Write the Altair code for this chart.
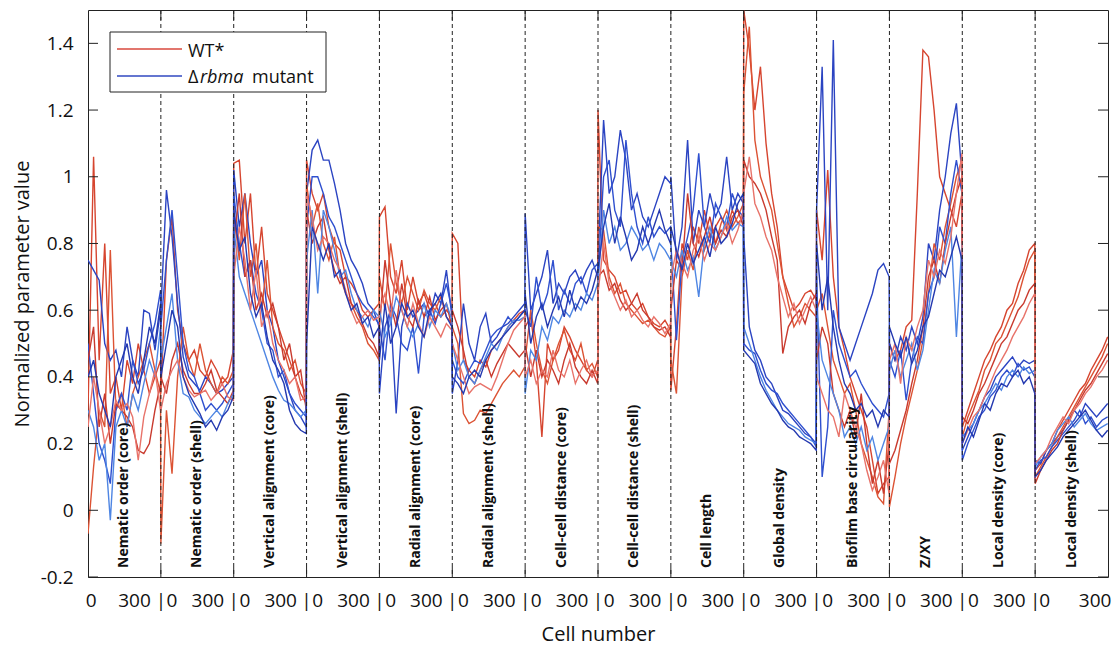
import altair as alt
import pandas as pd

# ---------------- data ----------------
CELLS = [0, 36, 72, 108, 144, 180, 216, 252, 288, 324, 360, 396, 432, 468]
SEG_LEN = 470

SEGMENT_LABELS = [
    "Nematic order (core)", "Nematic order (shell)",
    "Vertical alignment (core)", "Vertical alignment (shell)",
    "Radial alignment (core)", "Radial alignment (shell)",
    "Cell-cell distance (core)", "Cell-cell distance (shell)",
    "Cell length", "Global density", "Biofilm base circularity",
    "Z/XY", "Local density (core)", "Local density (shell)",
]

NEM_CORE_WT = [
    [0.30, 1.06, 0.45, 0.80, 0.35, 0.40, 0.30, 0.45, 0.38, 0.50, 0.42, 0.35, 0.40, 0.45],
    [-0.07, 0.13, 0.30, 0.25, 0.78, 0.30, 0.35, 0.25, 0.35, 0.40, 0.45, 0.50, 0.42, 0.35],
    [0.45, 0.55, 0.25, 0.35, 0.20, 0.32, 0.30, 0.28, 0.25, 0.18, 0.17, 0.20, 0.30, 0.38],
    [0.25, 0.40, 0.30, 0.20, 0.25, 0.33, 0.30, 0.32, 0.28, 0.15, 0.28, 0.35, 0.42, 0.30],
]
NEM_CORE_MUT = [
    [0.75, 0.72, 0.69, 0.50, 0.45, 0.48, 0.40, 0.55, 0.45, 0.40, 0.60, 0.59, 0.48, 0.60],
    [0.50, 0.35, 0.20, 0.15, 0.08, 0.30, 0.35, 0.30, 0.45, 0.38, 0.42, 0.50, 0.56, 0.66],
    [0.30, 0.25, 0.15, 0.20, -0.03, 0.25, 0.30, 0.25, 0.35, 0.30, 0.38, 0.45, 0.40, 0.55],
    [0.40, 0.45, 0.35, 0.30, 0.25, 0.40, 0.45, 0.50, 0.40, 0.35, 0.45, 0.55, 0.50, 0.62],
]
NEM_SHELL_WT = [
    [0.35, 0.75, 0.88, 0.60, 0.50, 0.45, 0.48, 0.42, 0.40, 0.45, 0.42, 0.38, 0.40, 0.48],
    [-0.10, 0.30, 0.11, 0.40, 0.55, 0.45, 0.40, 0.50, 0.42, 0.38, 0.35, 0.40, 0.38, 0.42],
    [0.40, 0.35, 0.45, 0.50, 0.42, 0.38, 0.35, 0.35, 0.38, 0.42, 0.36, 0.34, 0.32, 0.36],
    [0.30, 0.38, 0.42, 0.45, 0.40, 0.36, 0.34, 0.35, 0.36, 0.33, 0.35, 0.38, 0.34, 0.33],
]
NEM_SHELL_MUT = [
    [0.60, 0.96, 0.82, 0.62, 0.46, 0.40, 0.38, 0.36, 0.40, 0.38, 0.35, 0.36, 0.38, 0.40],
    [0.55, 0.75, 0.90, 0.70, 0.50, 0.42, 0.40, 0.35, 0.30, 0.32, 0.30, 0.32, 0.35, 0.38],
    [0.45, 0.55, 0.65, 0.45, 0.35, 0.34, 0.30, 0.28, 0.26, 0.28, 0.30, 0.28, 0.32, 0.35],
    [0.40, 0.50, 0.60, 0.55, 0.40, 0.35, 0.32, 0.29, 0.25, 0.27, 0.24, 0.28, 0.30, 0.34],
]
VERT_CORE_WT = [
    [1.04, 1.05, 0.80, 0.95, 0.70, 0.85, 0.65, 0.60, 0.55, 0.50, 0.45, 0.40, 0.35, 0.32],
    [0.90, 0.75, 0.95, 0.70, 0.80, 0.60, 0.75, 0.55, 0.50, 0.48, 0.42, 0.45, 0.38, 0.35],
    [0.80, 0.95, 0.70, 0.75, 0.60, 0.65, 0.58, 0.62, 0.55, 0.45, 0.50, 0.40, 0.42, 0.30],
    [0.70, 0.85, 0.75, 0.60, 0.72, 0.55, 0.60, 0.50, 0.45, 0.42, 0.38, 0.40, 0.33, 0.34],
]
VERT_CORE_MUT = [
    [1.02, 0.85, 0.95, 0.80, 0.70, 0.75, 0.60, 0.55, 0.45, 0.40, 0.35, 0.30, 0.28, 0.25],
    [0.95, 0.80, 0.70, 0.75, 0.65, 0.60, 0.50, 0.48, 0.40, 0.42, 0.35, 0.32, 0.30, 0.28],
    [0.85, 0.70, 0.65, 0.60, 0.55, 0.50, 0.45, 0.40, 0.36, 0.33, 0.32, 0.30, 0.28, 0.30],
    [0.90, 0.78, 0.82, 0.65, 0.58, 0.62, 0.52, 0.45, 0.42, 0.38, 0.30, 0.26, 0.24, 0.23],
]
VERT_SHELL_WT = [
    [1.05, 0.95, 0.90, 0.95, 0.85, 0.80, 0.78, 0.70, 0.68, 0.65, 0.60, 0.58, 0.60, 0.62],
    [0.98, 0.85, 0.92, 0.80, 0.75, 0.82, 0.70, 0.65, 0.62, 0.58, 0.55, 0.50, 0.48, 0.45],
    [0.90, 0.80, 0.85, 0.88, 0.78, 0.72, 0.68, 0.70, 0.62, 0.60, 0.56, 0.52, 0.50, 0.46],
    [0.95, 0.88, 0.78, 0.82, 0.80, 0.75, 0.72, 0.66, 0.60, 0.56, 0.58, 0.60, 0.57, 0.58],
]
VERT_SHELL_MUT = [
    [0.95, 1.08, 1.11, 1.05, 1.05, 0.98, 0.90, 0.80, 0.75, 0.72, 0.68, 0.62, 0.60, 0.55],
    [0.85, 1.00, 1.00, 0.95, 0.88, 0.85, 0.80, 0.75, 0.70, 0.65, 0.62, 0.60, 0.58, 0.56],
    [0.75, 0.90, 0.65, 0.90, 0.85, 0.78, 0.70, 0.72, 0.65, 0.60, 0.58, 0.55, 0.60, 0.58],
    [0.50, 0.85, 0.80, 0.75, 0.80, 0.70, 0.72, 0.65, 0.60, 0.62, 0.56, 0.58, 0.52, 0.55],
]
RAD_CORE_WT = [
    [0.88, 0.91, 0.70, 0.65, 0.75, 0.60, 0.70, 0.62, 0.65, 0.60, 0.62, 0.58, 0.60, 0.58],
    [0.70, 0.60, 0.80, 0.68, 0.62, 0.70, 0.65, 0.60, 0.66, 0.62, 0.60, 0.64, 0.58, 0.56],
    [0.55, 0.75, 0.62, 0.55, 0.68, 0.58, 0.55, 0.63, 0.58, 0.64, 0.57, 0.60, 0.62, 0.55],
    [0.60, 0.65, 0.58, 0.72, 0.60, 0.55, 0.62, 0.56, 0.52, 0.58, 0.55, 0.52, 0.56, 0.54],
]
RAD_CORE_MUT = [
    [0.35, 0.55, 0.60, 0.29, 0.55, 0.62, 0.58, 0.60, 0.62, 0.58, 0.65, 0.62, 0.72, 0.58],
    [0.55, 0.45, 0.62, 0.58, 0.50, 0.48, 0.55, 0.41, 0.58, 0.60, 0.56, 0.62, 0.68, 0.60],
    [0.60, 0.52, 0.56, 0.64, 0.60, 0.55, 0.52, 0.56, 0.62, 0.55, 0.60, 0.58, 0.62, 0.57],
    [0.45, 0.62, 0.50, 0.55, 0.62, 0.58, 0.60, 0.55, 0.52, 0.60, 0.62, 0.65, 0.58, 0.55],
]
RAD_SHELL_WT = [
    [0.83, 0.80, 0.45, 0.42, 0.40, 0.45, 0.43, 0.48, 0.50, 0.52, 0.55, 0.57, 0.59, 0.60],
    [0.55, 0.50, 0.29, 0.26, 0.27, 0.30, 0.29, 0.32, 0.35, 0.38, 0.40, 0.42, 0.40, 0.43],
    [0.60, 0.55, 0.48, 0.40, 0.38, 0.42, 0.45, 0.40, 0.44, 0.47, 0.50, 0.48, 0.46, 0.48],
    [0.50, 0.45, 0.40, 0.35, 0.37, 0.38, 0.37, 0.36, 0.40, 0.45, 0.50, 0.54, 0.56, 0.58],
]
RAD_SHELL_MUT = [
    [0.35, 0.45, 0.62, 0.50, 0.45, 0.55, 0.59, 0.50, 0.52, 0.55, 0.56, 0.58, 0.60, 0.62],
    [0.45, 0.40, 0.38, 0.42, 0.45, 0.44, 0.48, 0.52, 0.54, 0.55, 0.58, 0.56, 0.58, 0.60],
    [0.50, 0.42, 0.45, 0.40, 0.38, 0.42, 0.46, 0.50, 0.48, 0.52, 0.55, 0.57, 0.57, 0.58],
    [0.40, 0.38, 0.35, 0.40, 0.42, 0.40, 0.45, 0.48, 0.50, 0.52, 0.54, 0.56, 0.58, 0.60],
]
CCD_CORE_WT = [
    [0.55, 0.58, 0.45, 0.22, 0.50, 0.45, 0.48, 0.55, 0.52, 0.48, 0.45, 0.42, 0.40, 0.45],
    [0.45, 0.60, 0.50, 0.42, 0.38, 0.45, 0.50, 0.54, 0.48, 0.45, 0.50, 0.42, 0.44, 0.40],
    [0.50, 0.40, 0.48, 0.40, 0.45, 0.42, 0.38, 0.45, 0.50, 0.43, 0.40, 0.38, 0.42, 0.38],
    [0.40, 0.45, 0.38, 0.42, 0.40, 0.48, 0.42, 0.40, 0.45, 0.38, 0.42, 0.45, 0.40, 0.42],
]
CCD_CORE_MUT = [
    [0.89, 0.60, 0.65, 0.70, 0.78, 0.62, 0.68, 0.65, 0.70, 0.72, 0.68, 0.72, 0.75, 0.70],
    [0.60, 0.55, 0.70, 0.60, 0.65, 0.75, 0.60, 0.66, 0.62, 0.68, 0.70, 0.65, 0.72, 0.74],
    [0.35, 0.48, 0.45, 0.55, 0.51, 0.58, 0.56, 0.60, 0.58, 0.62, 0.60, 0.65, 0.63, 0.68],
    [0.65, 0.50, 0.58, 0.62, 0.55, 0.60, 0.64, 0.58, 0.66, 0.60, 0.64, 0.62, 0.66, 0.72],
]
CCD_SHELL_WT = [
    [1.20, 0.75, 0.72, 0.70, 0.65, 0.66, 0.62, 0.60, 0.62, 0.58, 0.56, 0.55, 0.57, 0.54],
    [0.85, 0.84, 0.70, 0.65, 0.68, 0.62, 0.60, 0.58, 0.56, 0.57, 0.55, 0.53, 0.52, 0.55],
    [0.70, 0.72, 0.66, 0.68, 0.63, 0.60, 0.62, 0.65, 0.60, 0.58, 0.55, 0.54, 0.55, 0.52],
    [0.65, 0.80, 0.68, 0.64, 0.60, 0.63, 0.58, 0.60, 0.57, 0.55, 0.58, 0.56, 0.53, 0.56],
]
CCD_SHELL_MUT = [
    [0.75, 1.17, 0.95, 1.00, 1.14, 1.05, 0.90, 0.95, 0.88, 0.85, 0.90, 0.95, 1.00, 0.98],
    [0.70, 1.00, 1.05, 0.90, 0.85, 1.11, 0.95, 0.85, 0.80, 0.88, 0.82, 0.85, 0.83, 0.85],
    [0.68, 0.90, 0.80, 0.85, 0.78, 0.80, 0.85, 0.82, 0.78, 0.80, 0.75, 0.80, 0.78, 0.75],
    [0.72, 0.85, 0.92, 0.80, 0.88, 0.82, 0.75, 0.78, 0.85, 0.80, 0.85, 0.90, 0.84, 0.80],
]
LENGTH_WT = [
    [0.36, 0.55, 0.80, 0.75, 0.85, 0.80, 0.90, 0.82, 0.85, 0.88, 0.84, 0.90, 0.86, 0.88],
    [0.45, 0.35, 0.70, 0.78, 0.72, 0.85, 0.78, 0.83, 0.80, 0.86, 0.90, 0.85, 0.88, 0.92],
    [0.60, 0.75, 0.72, 0.95, 0.80, 0.76, 0.82, 0.88, 0.80, 0.84, 0.82, 0.88, 0.90, 0.85],
    [0.70, 0.78, 0.74, 0.70, 0.78, 0.82, 0.75, 0.80, 0.78, 0.82, 0.86, 0.80, 0.84, 0.90],
]
LENGTH_MUT = [
    [1.00, 0.75, 0.85, 1.11, 0.80, 0.90, 0.85, 0.95, 0.88, 0.92, 1.06, 0.90, 0.95, 0.92],
    [0.80, 0.51, 0.75, 0.82, 0.90, 1.07, 0.85, 0.80, 0.92, 0.88, 0.85, 0.95, 0.90, 0.88],
    [0.75, 0.70, 0.78, 0.72, 0.76, 0.64, 0.80, 0.85, 0.78, 0.82, 0.88, 0.84, 0.86, 0.85],
    [0.85, 0.78, 0.72, 0.80, 0.74, 0.78, 0.82, 0.76, 0.85, 0.80, 0.82, 0.86, 0.92, 0.95],
]
GLOBAL_WT = [
    [1.50, 1.38, 1.20, 1.33, 1.10, 0.95, 0.85, 0.70, 0.65, 0.60, 0.62, 0.65, 0.66, 0.63],
    [1.25, 1.45, 1.11, 1.00, 0.95, 0.90, 0.80, 0.70, 0.62, 0.55, 0.58, 0.62, 0.60, 0.58],
    [1.05, 1.00, 0.98, 0.95, 0.90, 0.82, 0.75, 0.47, 0.55, 0.58, 0.60, 0.56, 0.62, 0.65],
    [0.95, 1.06, 0.92, 0.88, 0.82, 0.78, 0.70, 0.64, 0.58, 0.62, 0.56, 0.60, 0.64, 0.60],
]
GLOBAL_MUT = [
    [0.82, 0.55, 0.48, 0.45, 0.40, 0.38, 0.34, 0.30, 0.29, 0.27, 0.25, 0.23, 0.22, 0.20],
    [0.50, 0.48, 0.47, 0.42, 0.38, 0.36, 0.35, 0.32, 0.30, 0.28, 0.26, 0.24, 0.22, 0.19],
    [0.55, 0.50, 0.45, 0.40, 0.36, 0.33, 0.30, 0.28, 0.26, 0.25, 0.24, 0.22, 0.21, 0.20],
    [0.48, 0.46, 0.44, 0.38, 0.35, 0.32, 0.30, 0.27, 0.25, 0.24, 0.22, 0.21, 0.20, 0.18],
]
BASE_WT = [
    [0.90, 0.75, 1.02, 0.70, 0.55, 0.48, 0.40, 0.35, 0.30, 0.25, 0.15, 0.05, 0.08, 0.10],
    [0.60, 0.65, 0.55, 0.45, 0.40, 0.35, 0.38, 0.30, 0.20, 0.15, 0.10, 0.04, 0.02, 0.30],
    [0.45, 0.55, 0.50, 0.35, 0.30, 0.25, 0.30, 0.22, 0.35, 0.20, 0.08, 0.15, 0.05, 0.20],
    [0.40, 0.35, 0.30, 0.28, 0.22, 0.35, 0.30, 0.25, 0.20, 0.12, 0.06, 0.10, 0.15, 0.05],
]
BASE_MUT = [
    [0.90, 1.33, 0.60, 1.41, 0.55, 0.50, 0.45, 0.50, 0.55, 0.60, 0.65, 0.72, 0.74, 0.70],
    [0.70, 0.10, 0.25, 0.60, 0.50, 0.45, 0.40, 0.42, 0.38, 0.35, 0.32, 0.30, 0.28, 0.35],
    [0.60, 0.45, 0.40, 0.35, 0.30, 0.22, 0.25, 0.20, 0.25, 0.18, 0.22, 0.15, 0.20, 0.25],
    [0.80, 0.60, 0.70, 0.55, 0.45, 0.38, 0.35, 0.30, 0.32, 0.28, 0.30, 0.25, 0.30, 0.28],
]
ZXY_WT = [
    [0.50, 0.45, 0.48, 0.55, 0.57, 0.95, 1.38, 1.36, 1.20, 1.00, 0.95, 0.90, 0.85, 0.95],
    [0.01, 0.10, 0.20, 0.28, 0.35, 0.42, 0.51, 0.65, 0.80, 0.75, 0.85, 0.92, 1.00, 1.05],
    [0.14, 0.18, 0.24, 0.30, 0.38, 0.45, 0.55, 0.70, 0.75, 0.68, 0.80, 0.88, 0.95, 1.00],
    [0.45, 0.50, 0.38, 0.52, 0.48, 0.55, 0.60, 0.75, 0.70, 0.78, 0.74, 0.82, 0.95, 1.07],
]
ZXY_MUT = [
    [0.50, 0.45, 0.52, 0.48, 0.55, 0.50, 0.58, 0.80, 0.75, 0.90, 1.00, 1.13, 1.22, 1.00],
    [0.45, 0.40, 0.48, 0.33, 0.45, 0.52, 0.50, 0.65, 0.70, 0.85, 0.80, 0.95, 1.05, 0.95],
    [0.42, 0.48, 0.40, 0.45, 0.50, 0.42, 0.48, 0.60, 0.72, 0.68, 0.78, 0.85, 0.52, 0.80],
    [0.55, 0.50, 0.46, 0.52, 0.44, 0.48, 0.55, 0.58, 0.65, 0.72, 0.70, 0.76, 0.82, 0.75],
]
LOC_CORE_WT = [
    [0.25, 0.30, 0.35, 0.40, 0.45, 0.48, 0.52, 0.55, 0.60, 0.62, 0.68, 0.72, 0.78, 0.80],
    [0.22, 0.28, 0.32, 0.36, 0.42, 0.45, 0.50, 0.52, 0.56, 0.60, 0.64, 0.70, 0.75, 0.78],
    [0.28, 0.26, 0.30, 0.35, 0.38, 0.42, 0.46, 0.50, 0.52, 0.56, 0.60, 0.62, 0.66, 0.68],
    [0.20, 0.24, 0.28, 0.30, 0.34, 0.38, 0.42, 0.45, 0.48, 0.52, 0.55, 0.58, 0.62, 0.65],
]
LOC_CORE_MUT = [
    [0.18, 0.22, 0.26, 0.30, 0.34, 0.36, 0.40, 0.42, 0.44, 0.46, 0.43, 0.45, 0.44, 0.45],
    [0.15, 0.20, 0.24, 0.28, 0.30, 0.34, 0.36, 0.40, 0.42, 0.40, 0.44, 0.42, 0.43, 0.40],
    [0.22, 0.24, 0.26, 0.30, 0.32, 0.35, 0.38, 0.36, 0.40, 0.42, 0.40, 0.43, 0.41, 0.42],
    [0.20, 0.25, 0.22, 0.27, 0.32, 0.30, 0.35, 0.38, 0.37, 0.40, 0.42, 0.38, 0.40, 0.35],
]
LOC_SHELL_WT = [
    [0.12, 0.14, 0.18, 0.20, 0.24, 0.27, 0.30, 0.33, 0.36, 0.38, 0.42, 0.45, 0.48, 0.52],
    [0.10, 0.13, 0.16, 0.19, 0.22, 0.25, 0.28, 0.31, 0.34, 0.37, 0.40, 0.43, 0.46, 0.50],
    [0.08, 0.12, 0.15, 0.18, 0.20, 0.24, 0.27, 0.30, 0.33, 0.36, 0.38, 0.41, 0.44, 0.47],
    [0.14, 0.16, 0.18, 0.22, 0.25, 0.28, 0.26, 0.30, 0.32, 0.35, 0.37, 0.40, 0.42, 0.45],
]
LOC_SHELL_MUT = [
    [0.15, 0.14, 0.18, 0.20, 0.22, 0.24, 0.27, 0.30, 0.28, 0.32, 0.30, 0.28, 0.30, 0.32],
    [0.12, 0.15, 0.16, 0.19, 0.21, 0.23, 0.25, 0.27, 0.30, 0.26, 0.28, 0.25, 0.27, 0.28],
    [0.13, 0.16, 0.18, 0.20, 0.24, 0.26, 0.28, 0.25, 0.27, 0.29, 0.26, 0.24, 0.25, 0.26],
    [0.10, 0.12, 0.15, 0.17, 0.19, 0.22, 0.24, 0.26, 0.28, 0.30, 0.27, 0.24, 0.22, 0.24],
]

SEG_WT = [NEM_CORE_WT, NEM_SHELL_WT, VERT_CORE_WT, VERT_SHELL_WT, RAD_CORE_WT,
          RAD_SHELL_WT, CCD_CORE_WT, CCD_SHELL_WT, LENGTH_WT, GLOBAL_WT, BASE_WT,
          ZXY_WT, LOC_CORE_WT, LOC_SHELL_WT]
SEG_MUT = [NEM_CORE_MUT, NEM_SHELL_MUT, VERT_CORE_MUT, VERT_SHELL_MUT, RAD_CORE_MUT,
           RAD_SHELL_MUT, CCD_CORE_MUT, CCD_SHELL_MUT, LENGTH_MUT, GLOBAL_MUT, BASE_MUT,
           ZXY_MUT, LOC_CORE_MUT, LOC_SHELL_MUT]

REPS = ["WT1", "MUT1", "WT2", "MUT2", "WT3", "MUT3", "WT4", "MUT4"]
REP_COLORS = ["#d6452f", "#2b44c2", "#dc5334", "#2f50cf", "#c93a2e", "#4f86e3", "#e8736a", "#2439b0"]

Y_TICKS = [-0.2, 0, 0.2, 0.4, 0.6, 0.8, 1.0, 1.2, 1.4]
X_TICK_POS = [20, 300]
X_TICK_TEXT = ["0", "300"]
for s in range(1, 14):
    last = s == 13
    X_TICK_POS += [s * SEG_LEN, s * SEG_LEN + (62 if last else 72), s * SEG_LEN + (387 if last else 303)]
    X_TICK_TEXT += ["|", "0", "300"]

# ---------------- build tables ----------------
rows = []
for s in range(14):
    for k in range(4):
        for c, v in zip(CELLS, SEG_WT[s][k]):
            rows.append({"x": s * SEG_LEN + c, "y": v, "rep": f"WT{k+1}"})
        for c, v in zip(CELLS, SEG_MUT[s][k]):
            rows.append({"x": s * SEG_LEN + c, "y": v, "rep": f"MUT{k+1}"})
lines_df = pd.DataFrame(rows)

sep_df = pd.DataFrame({"x": [s * SEG_LEN for s in range(1, 14)]})
lab_df = pd.DataFrame({"x": [s * SEG_LEN + SEG_LEN / 2 for s in range(14)], "label": SEGMENT_LABELS})
xtick_df = pd.DataFrame({"x": X_TICK_POS, "t": X_TICK_TEXT})
ytick_df = pd.DataFrame({"y": Y_TICKS})
one = pd.DataFrame({"a": [0]})

FONT = "Open Sans"
W, H = 1020, 567
INK = "#111"

x_enc = alt.X("x:Q", scale=alt.Scale(domain=[0, 14 * SEG_LEN], nice=False, zero=False),
              axis=alt.Axis(labels=False, ticks=False, grid=False, domain=False,
                            title="Cell number", titleFont=FONT, titleFontSize=20,
                            titleFontWeight="normal", titleColor=INK,
                            titleBaseline="alphabetic", titleY=63))
y_enc = alt.Y("y:Q", scale=alt.Scale(domain=[-0.2, 1.5], nice=False, zero=False),
              axis=alt.Axis(values=Y_TICKS, labelExpr="'' + datum.value", ticks=False, grid=False,
                            domain=False, labelFontSize=19, labelFont=FONT, labelColor=INK,
                            labelPadding=15, title="Normalized parameter value", titleFont=FONT,
                            titleFontSize=20, titleFontWeight="normal", titleColor=INK,
                            titleAngle=270, titleBaseline="alphabetic", titleAlign="center",
                            titleX=-60, titleY=H / 2))

lines = alt.Chart(lines_df).mark_line(strokeWidth=1.4, clip=True).encode(
    x=x_enc, y=y_enc,
    color=alt.Color("rep:N", scale=alt.Scale(domain=REPS, range=REP_COLORS), legend=None),
    detail="rep:N",
)

seps = alt.Chart(sep_df).mark_rule(strokeDash=[4, 3], color="#222", strokeWidth=1).encode(
    x="x:Q")
top_ticks = alt.Chart(sep_df).mark_rule(color="#222", strokeWidth=1).encode(
    x="x:Q", y=alt.value(0), y2=alt.value(10))
bot_ticks = alt.Chart(sep_df).mark_rule(color="#222", strokeWidth=1).encode(
    x="x:Q", y=alt.value(H - 10), y2=alt.value(H))
left_ticks = alt.Chart(ytick_df).mark_rule(color="#222", strokeWidth=1).encode(
    y="y:Q", x=alt.value(0), x2=alt.value(10))
right_ticks = alt.Chart(ytick_df).mark_rule(color="#222", strokeWidth=1).encode(
    y="y:Q", x=alt.value(W - 10), x2=alt.value(W))

xlabels = alt.Chart(xtick_df).mark_text(align="center", baseline="alphabetic", font=FONT,
                                        fontSize=19, color=INK).encode(
    x="x:Q", y=alt.value(H + 30), text="t:N")

labels = alt.Chart(lab_df).mark_text(angle=270, align="left", baseline="middle", font=FONT,
                                     fontSize=14, fontWeight="bold", color=INK).encode(
    x="x:Q", y=alt.value(H - 9), text="label:N")

leg_box = alt.Chart(one).mark_rect(fill="white", stroke="#222", strokeWidth=1).encode(
    x=alt.value(22), x2=alt.value(238), y=alt.value(22), y2=alt.value(82))
leg_red = alt.Chart(one).mark_rule(color="#d9493d", strokeWidth=1.5).encode(
    x=alt.value(29), x2=alt.value(94), y=alt.value(39))
leg_blue = alt.Chart(one).mark_rule(color="#3048c0", strokeWidth=1.5).encode(
    x=alt.value(29), x2=alt.value(94), y=alt.value(66))
leg_t1 = alt.Chart(one).mark_text(align="left", baseline="alphabetic", font=FONT, fontSize=18,
                                  color=INK, text="WT*").encode(x=alt.value(100), y=alt.value(47))
leg_t2 = alt.Chart(one).mark_text(align="left", baseline="alphabetic", font=FONT, fontSize=18,
                                  color=INK, text="Δ").encode(x=alt.value(100), y=alt.value(73))
leg_t3 = alt.Chart(one).mark_text(align="left", baseline="alphabetic", font=FONT, fontSize=18,
                                  fontStyle="italic", color=INK, text="rbma").encode(
    x=alt.value(112), y=alt.value(73))
leg_t4 = alt.Chart(one).mark_text(align="left", baseline="alphabetic", font=FONT, fontSize=18,
                                  color=INK, text="mutant").encode(x=alt.value(164), y=alt.value(73))

chart = alt.layer(
    lines, seps, top_ticks, bot_ticks, left_ticks, right_ticks, xlabels, labels,
    leg_box, leg_red, leg_blue, leg_t1, leg_t2, leg_t3, leg_t4,
).properties(
    width=W, height=H,
    autosize=alt.AutoSizeParams(type="none"),
    padding={"left": 88, "top": 10, "right": 10, "bottom": 68},
    background="white",
).configure_view(stroke="#222", strokeWidth=1)

chart.save("out.html", embed_options={"renderer": "svg", "actions": False})
